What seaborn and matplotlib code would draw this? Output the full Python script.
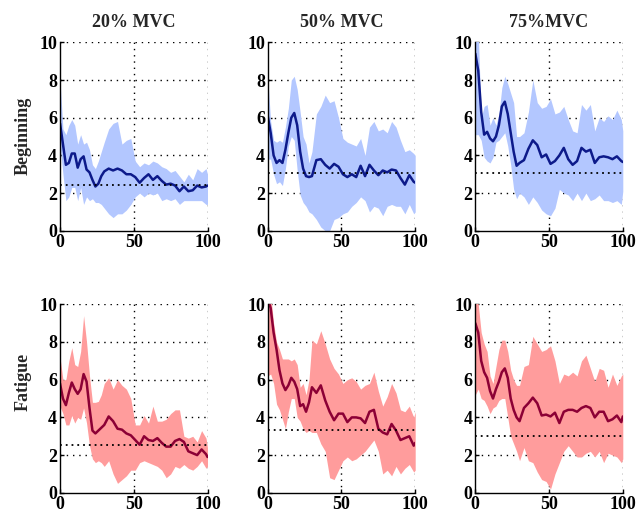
import matplotlib
matplotlib.use("Agg")
import matplotlib.pyplot as plt
import seaborn as sns
import pandas as pd

sns.set_theme(style="white")
plt.rcParams['font.family'] = ['Liberation Serif', 'DejaVu Serif']
plt.rcParams['font.weight'] = 'bold'

# ---------------- data ----------------
x = [0, 2, 4, 6, 8, 10, 12, 14, 16, 18, 20, 22, 24, 26, 28, 30, 33, 36, 39, 42,
     45, 48, 51, 54, 57, 60, 63, 66, 69, 72, 75, 78, 81, 84, 87, 90, 93, 96, 99, 100]

col_titles = ["20% MVC", "50% MVC", "75%MVC"]
row_titles = ["Beginning", "Fatigue"]

# Beginning, 20% MVC
b20_mean = [5.7, 4.6, 3.5, 3.6, 4.1, 4.1, 3.35, 3.8, 3.95, 3.25, 3.1, 2.7, 2.35, 2.5, 2.9, 3.15, 3.3, 3.2, 3.3, 3.2,
            3.0, 3.0, 2.85, 2.55, 2.8, 3.0, 2.7, 2.9, 2.65, 2.45, 2.5, 2.4, 2.1, 2.35, 2.1, 2.15, 2.4, 2.3, 2.35, 2.4]
b20_lo = [4.6, 3.0, 1.6, 1.8, 2.3, 2.3, 1.6, 2.3, 1.4, 1.8, 1.6, 1.7, 1.5, 1.5, 1.4, 1.2, 0.9, 0.7, 0.9, 0.9,
          1.1, 1.4, 1.8, 2.0, 1.8, 2.0, 1.9, 2.0, 1.6, 1.7, 1.6, 1.7, 1.4, 1.6, 1.6, 1.6, 1.6, 1.6, 1.4, 1.4]
b20_hi = [8.0, 5.4, 5.1, 5.6, 5.9, 5.6, 4.6, 5.1, 4.6, 4.7, 4.3, 3.5, 3.3, 3.7, 4.2, 4.7, 5.4, 5.7, 5.8, 4.6,
          4.8, 4.9, 3.7, 3.4, 3.6, 3.5, 3.7, 3.6, 3.4, 3.3, 3.1, 3.2, 2.9, 2.6, 3.0, 2.7, 3.3, 3.1, 3.3, 3.0]

# Beginning, 50% MVC
b50_mean = [6.1, 5.2, 4.0, 3.6, 3.75, 3.6, 4.3, 5.2, 6.0, 6.25, 5.6, 4.2, 3.3, 2.9, 2.85, 2.9, 3.75, 3.8, 3.5, 3.3,
            3.55, 3.4, 3.0, 2.85, 3.0, 2.85, 3.45, 2.9, 3.5, 3.2, 2.95, 3.2, 3.1, 3.25, 3.2, 2.8, 2.45, 2.95, 2.6, 2.55]
b50_lo = [3.8, 3.8, 3.0, 2.5, 2.6, 2.4, 3.3, 4.5, 5.0, 4.8, 3.2, 1.9, 1.5, 1.3, 1.0, 0.9, 0.6, 0.2, 0.0, 0.0,
          0.6, 0.7, 0.9, 1.0, 1.3, 1.5, 1.8, 1.6, 1.0, 1.3, 1.2, 0.8, 1.3, 1.4, 1.3, 1.3, 0.9, 1.4, 0.9, 1.0]
b50_hi = [8.2, 5.8, 4.8, 4.7, 4.8, 4.7, 5.5, 6.5, 8.0, 8.2, 7.5, 6.3, 5.0, 4.6, 3.6, 4.2, 6.2, 6.6, 7.2, 6.8,
          6.9, 6.0, 4.9, 4.7, 4.6, 4.5, 4.9, 4.0, 5.5, 5.8, 5.3, 5.4, 5.2, 5.8, 5.5, 4.8, 4.2, 4.3, 4.1, 4.0]

# Beginning, 75% MVC
b75_mean = [9.4, 8.5, 6.3, 5.1, 5.25, 4.9, 4.75, 5.0, 5.6, 6.6, 6.85, 6.2, 5.2, 4.2, 3.45, 3.6, 3.75, 4.35, 4.8, 4.55,
            3.9, 4.05, 3.55, 3.7, 4.0, 4.4, 3.8, 3.5, 3.7, 4.4, 4.2, 4.3, 3.6, 3.9, 3.95, 3.9, 3.8, 3.95, 3.7, 3.65]
b75_lo = [5.1, 5.1, 4.8, 3.9, 3.7, 3.6, 3.9, 4.7, 4.8, 5.0, 5.2, 4.5, 3.5, 2.2, 1.7, 2.0, 1.8, 1.4, 1.8, 1.5,
          1.1, 0.9, 0.8, 1.2, 2.2, 2.0, 1.9, 1.6, 2.0, 1.6, 2.0, 1.6, 1.7, 1.9, 1.6, 1.6, 1.5, 1.6, 1.4, 2.1]
b75_hi = [10.5, 10.5, 6.0, 6.6, 6.7, 5.6, 6.0, 5.6, 6.2, 7.6, 8.2, 7.8, 7.3, 6.8, 5.0, 5.0, 5.2, 6.3, 8.0, 6.8,
          6.5, 6.6, 7.0, 6.2, 6.3, 6.6, 5.9, 5.3, 5.2, 6.7, 6.4, 6.7, 5.3, 6.0, 5.8, 6.1, 5.9, 6.4, 5.9, 5.3]

# Fatigue, 20% MVC
f20_mean = [5.8, 5.0, 4.65, 5.3, 5.85, 5.5, 5.25, 5.5, 6.3, 5.9, 4.5, 3.3, 3.15, 3.3, 3.45, 3.6, 4.05, 3.8, 3.4, 3.35,
            3.15, 3.05, 2.8, 2.55, 3.0, 2.8, 2.75, 2.9, 2.65, 2.45, 2.45, 2.75, 2.85, 2.7, 2.2, 2.1, 2.0, 2.3, 2.05, 1.9]
f20_lo = [4.6, 4.2, 3.6, 3.6, 4.1, 3.7, 4.0, 3.9, 4.5, 3.7, 2.5, 1.8, 1.6, 1.7, 1.6, 1.4, 1.7, 1.0, 0.5, 0.7,
          0.9, 1.2, 1.2, 1.6, 1.7, 1.6, 1.5, 1.4, 1.2, 0.8, 1.0, 1.4, 1.3, 1.5, 1.3, 1.2, 1.4, 1.7, 1.3, 1.4]
f20_hi = [7.2, 6.0, 6.0, 7.0, 7.7, 6.8, 6.7, 7.5, 9.4, 8.0, 6.2, 4.8, 4.8, 4.85, 5.2, 5.8, 6.1, 5.5, 6.0, 5.7,
          5.5, 5.0, 3.6, 3.6, 4.1, 3.7, 4.6, 3.8, 3.8, 3.9, 4.2, 4.4, 4.4, 3.0, 2.9, 3.0, 2.7, 3.3, 2.9, 2.4]

# Fatigue, 50% MVC
f50_mean = [10.3, 9.8, 8.5, 7.6, 6.5, 5.8, 5.45, 5.7, 6.1, 5.9, 5.5, 4.6, 4.7, 4.3, 4.8, 5.6, 5.3, 5.7, 4.9, 4.3,
            3.85, 4.2, 4.2, 3.75, 4.0, 4.0, 3.95, 3.7, 4.3, 4.4, 3.4, 3.2, 3.1, 3.65, 3.3, 2.8, 2.9, 3.0, 2.5, 2.65]
f50_lo = [6.2, 6.3, 5.8, 4.7, 4.4, 3.9, 3.4, 4.3, 5.0, 5.0, 4.0, 3.8, 3.4, 3.2, 3.3, 3.2, 3.2, 2.6, 2.2, 0.8,
          0.7, 1.2, 1.7, 1.9, 1.7, 1.8, 2.0, 2.2, 2.5, 2.8, 2.2, 1.0, 1.2, 0.9, 1.4, 1.0, 1.3, 1.5, 1.1, 1.2]
f50_hi = [10.5, 10.5, 9.0, 8.0, 7.6, 7.1, 7.1, 7.1, 7.0, 7.1, 6.8, 5.6, 5.8, 5.2, 6.0, 8.1, 7.9, 8.6, 7.9, 7.1,
          6.6, 6.3, 5.8, 6.0, 6.1, 5.9, 5.5, 5.7, 5.8, 6.4, 5.4, 4.6, 5.1, 5.8, 5.3, 4.4, 4.3, 4.6, 4.0, 4.3]

# Fatigue, 75% MVC
f75_mean = [9.0, 8.5, 7.0, 6.4, 6.1, 5.4, 5.0, 5.5, 5.9, 6.4, 6.6, 6.1, 5.0, 4.4, 4.0, 3.8, 4.5, 4.75, 5.05, 4.75,
            4.1, 4.15, 4.05, 4.25, 3.7, 4.3, 4.4, 4.4, 4.3, 4.5, 4.6, 4.5, 4.0, 4.3, 4.3, 3.8, 3.9, 4.1, 3.75, 4.05]
f75_lo = [5.2, 5.5, 5.0, 4.9, 4.6, 4.2, 4.5, 4.6, 4.9, 5.0, 5.0, 4.0, 3.0, 2.6, 2.2, 1.7, 2.4, 1.7, 1.6, 1.1,
          0.7, 0.6, 0.2, 1.0, 1.6, 2.2, 2.5, 2.2, 1.9, 1.9, 2.1, 2.2, 1.9, 2.2, 1.6, 2.1, 2.0, 1.9, 1.6, 1.8]
f75_hi = [10.5, 10.0, 8.5, 7.9, 7.5, 6.2, 5.8, 6.7, 7.6, 8.1, 8.1, 7.5, 6.5, 6.0, 5.7, 5.7, 6.7, 6.8, 8.3, 7.9,
          7.5, 7.6, 7.8, 7.0, 5.8, 6.3, 6.2, 6.4, 6.2, 7.0, 7.3, 6.6, 5.9, 6.6, 6.5, 5.6, 6.3, 5.7, 6.2, 6.3]

# dotted reference levels
ref_levels = [[2.45, 3.05, 3.08], [2.56, 3.35, 3.0]]

x_ticks = [0, 50, 100]
y_ticks = [0, 2, 4, 6, 8, 10]

panels = [[(b20_mean, b20_lo, b20_hi), (b50_mean, b50_lo, b50_hi), (b75_mean, b75_lo, b75_hi)],
          [(f20_mean, f20_lo, f20_hi), (f50_mean, f50_lo, f50_hi), (f75_mean, f75_lo, f75_hi)]]

line_colors = ["#0d1a8a", "#8c0035"]
fill_colors = ["#b3c7ff", "#ff9c9c"]

# ---------------- figure ----------------
W, H = 636, 515
fig = plt.figure(figsize=(W / 100, H / 100), dpi=100)

lefts = [60, 267.7, 475.3]
axw = 147.5
tops = [42.3, 304.3]
axh = 188.5

for r in range(2):
    for c in range(3):
        ax = fig.add_axes([lefts[c] / W, 1 - (tops[r] + axh) / H, axw / W, axh / H])
        mean, lo, hi = panels[r][c]
        # dotted grid (under the band)
        for gy in [2, 4, 6, 8, 10]:
            ax.axhline(gy, color="black", linestyle=(0, (1, 3.5)), linewidth=1.0, zorder=0.5)
        for gx in [50, 100]:
            ax.axvline(gx, color="black", linestyle=(0, (1, 3.5)), linewidth=1.0, zorder=0.5)
        ax.fill_between(x, lo, hi, color=fill_colors[r], linewidth=0, zorder=1)
        df = pd.DataFrame({"x": x, "y": mean})
        sns.lineplot(data=df, x="x", y="y", ax=ax, color=line_colors[r], linewidth=1.8, zorder=3)
        ax.axhline(ref_levels[r][c], color="black", linestyle=(0, (1, 2.2)), linewidth=1.3, zorder=4)
        ax.set_xlim(0, 100)
        ax.set_ylim(0, 10)
        ax.set_xticks(x_ticks)
        ax.set_yticks(y_ticks)
        ax.set_xticklabels([str(t) for t in x_ticks], fontsize=13, fontweight='bold')
        ax.set_yticklabels([str(t) for t in y_ticks], fontsize=13, fontweight='bold')
        ax.set_xlabel("")
        ax.set_ylabel("")
        ax.set_facecolor("white")
        ax.spines['top'].set_visible(False)
        ax.spines['right'].set_visible(False)
        ax.spines['left'].set_color("black")
        ax.spines['bottom'].set_color("black")
        ax.spines['left'].set_linewidth(1.0)
        ax.spines['bottom'].set_linewidth(1.0)
        ax.spines['left'].set_zorder(5)
        ax.spines['bottom'].set_zorder(5)
        ax.tick_params(axis='both', direction='in', length=3, width=1, colors='black',
                       pad=2, left=True, bottom=True)
        if r == 0:
            ax.set_title(col_titles[c], fontsize=13, fontweight='bold', pad=11)

fig.text(23 / W, 1 - 136 / H, row_titles[0], rotation=90, ha='center', va='center',
         fontsize=13, fontweight='bold')
fig.text(23 / W, 1 - 382 / H, row_titles[1], rotation=90, ha='center', va='center',
         fontsize=13, fontweight='bold')

fig.savefig("out.png", dpi=100, facecolor="white")
